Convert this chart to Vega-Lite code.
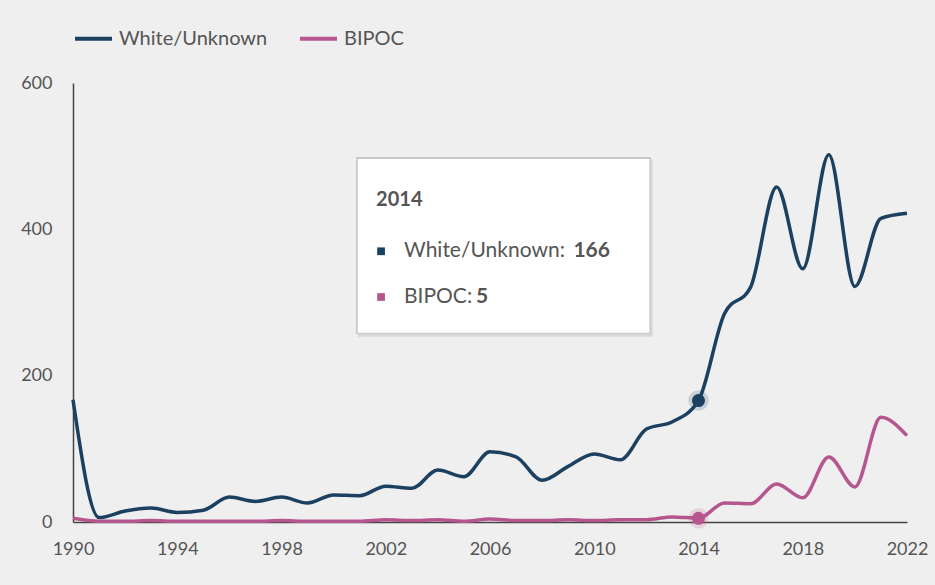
{
  "$schema": "https://vega.github.io/schema/vega-lite/v6.json",
  "autosize": "none",
  "width": 834,
  "height": 439,
  "padding": {"left": 73, "top": 83, "right": 28, "bottom": 63},
  "background": "#efefef",
  "config": {
    "view": {"stroke": null},
    "font": "Lato",
    "axis": {"grid": false, "ticks": false, "domainColor": "#444444", "domainWidth": 1.5, "labelColor": "#555555", "labelFont": "Lato", "labelFontSize": 18, "title": null, "labelFlush": false, "labelOverlap": false, "labelBound": false}
  },
  "data": {"values": [
    {"year": 1990, "series": "White/Unknown", "value": 167},
    {"year": 1991, "series": "White/Unknown", "value": 6},
    {"year": 1992, "series": "White/Unknown", "value": 15},
    {"year": 1993, "series": "White/Unknown", "value": 19},
    {"year": 1994, "series": "White/Unknown", "value": 13},
    {"year": 1995, "series": "White/Unknown", "value": 16},
    {"year": 1996, "series": "White/Unknown", "value": 34},
    {"year": 1997, "series": "White/Unknown", "value": 28},
    {"year": 1998, "series": "White/Unknown", "value": 34},
    {"year": 1999, "series": "White/Unknown", "value": 26},
    {"year": 2000, "series": "White/Unknown", "value": 37},
    {"year": 2001, "series": "White/Unknown", "value": 36},
    {"year": 2002, "series": "White/Unknown", "value": 49},
    {"year": 2003, "series": "White/Unknown", "value": 46},
    {"year": 2004, "series": "White/Unknown", "value": 71},
    {"year": 2005, "series": "White/Unknown", "value": 62},
    {"year": 2006, "series": "White/Unknown", "value": 96},
    {"year": 2007, "series": "White/Unknown", "value": 89},
    {"year": 2008, "series": "White/Unknown", "value": 57},
    {"year": 2009, "series": "White/Unknown", "value": 76},
    {"year": 2010, "series": "White/Unknown", "value": 93},
    {"year": 2011, "series": "White/Unknown", "value": 85},
    {"year": 2012, "series": "White/Unknown", "value": 127},
    {"year": 2013, "series": "White/Unknown", "value": 137},
    {"year": 2014, "series": "White/Unknown", "value": 166},
    {"year": 2015, "series": "White/Unknown", "value": 285},
    {"year": 2016, "series": "White/Unknown", "value": 321},
    {"year": 2017, "series": "White/Unknown", "value": 458},
    {"year": 2018, "series": "White/Unknown", "value": 346},
    {"year": 2019, "series": "White/Unknown", "value": 502},
    {"year": 2020, "series": "White/Unknown", "value": 322},
    {"year": 2021, "series": "White/Unknown", "value": 415},
    {"year": 2022, "series": "White/Unknown", "value": 422},
    {"year": 1990, "series": "BIPOC", "value": 5},
    {"year": 1991, "series": "BIPOC", "value": 1},
    {"year": 1992, "series": "BIPOC", "value": 1},
    {"year": 1993, "series": "BIPOC", "value": 2},
    {"year": 1994, "series": "BIPOC", "value": 1},
    {"year": 1995, "series": "BIPOC", "value": 1},
    {"year": 1996, "series": "BIPOC", "value": 1},
    {"year": 1997, "series": "BIPOC", "value": 1},
    {"year": 1998, "series": "BIPOC", "value": 2},
    {"year": 1999, "series": "BIPOC", "value": 1},
    {"year": 2000, "series": "BIPOC", "value": 1},
    {"year": 2001, "series": "BIPOC", "value": 1},
    {"year": 2002, "series": "BIPOC", "value": 3},
    {"year": 2003, "series": "BIPOC", "value": 2},
    {"year": 2004, "series": "BIPOC", "value": 3},
    {"year": 2005, "series": "BIPOC", "value": 1},
    {"year": 2006, "series": "BIPOC", "value": 4},
    {"year": 2007, "series": "BIPOC", "value": 2},
    {"year": 2008, "series": "BIPOC", "value": 2},
    {"year": 2009, "series": "BIPOC", "value": 3},
    {"year": 2010, "series": "BIPOC", "value": 2},
    {"year": 2011, "series": "BIPOC", "value": 3},
    {"year": 2012, "series": "BIPOC", "value": 3},
    {"year": 2013, "series": "BIPOC", "value": 7},
    {"year": 2014, "series": "BIPOC", "value": 5},
    {"year": 2015, "series": "BIPOC", "value": 26},
    {"year": 2016, "series": "BIPOC", "value": 25},
    {"year": 2017, "series": "BIPOC", "value": 52},
    {"year": 2018, "series": "BIPOC", "value": 33},
    {"year": 2019, "series": "BIPOC", "value": 89},
    {"year": 2020, "series": "BIPOC", "value": 48},
    {"year": 2021, "series": "BIPOC", "value": 143},
    {"year": 2022, "series": "BIPOC", "value": 118}
  ]},
  "layer": [
    {
      "mark": {"type": "line", "interpolate": "monotone", "strokeWidth": 3.5},
      "encoding": {
        "x": {"field": "year", "type": "quantitative", "scale": {"domain": [1990, 2022], "nice": false, "zero": false},
              "axis": {"values": [1990, 1994, 1998, 2002, 2006, 2010, 2014, 2018, 2022], "format": "d", "labelPadding": 18}},
        "y": {"field": "value", "type": "quantitative", "scale": {"domain": [0, 600], "nice": false},
              "axis": {"values": [0, 200, 400, 600], "labelPadding": 21}},
        "color": {"field": "series", "type": "nominal",
                  "scale": {"domain": ["White/Unknown", "BIPOC"], "range": ["#1b4060", "#b5568f"]},
                  "sort": ["White/Unknown", "BIPOC"],
                  "legend": {"title": null, "orient": "top", "direction": "horizontal", "offset": 34, "padding": 0,
                             "symbolType": "stroke", "symbolStrokeWidth": 4, "symbolSize": 1369,
                             "labelFontSize": 20, "labelColor": "#555555", "labelFont": "Lato",
                             "labelOffset": 5, "columnPadding": 24}}
      }
    },
    {
      "transform": [{"filter": "datum.year == 2014"}],
      "mark": {"type": "point", "filled": true, "size": 420, "opacity": 0.18},
      "encoding": {
        "x": {"field": "year", "type": "quantitative"},
        "y": {"field": "value", "type": "quantitative"},
        "color": {"field": "series", "type": "nominal", "legend": null}
      }
    },
    {
      "transform": [{"filter": "datum.year == 2014"}],
      "mark": {"type": "point", "filled": true, "size": 170, "opacity": 1},
      "encoding": {
        "x": {"field": "year", "type": "quantitative"},
        "y": {"field": "value", "type": "quantitative"},
        "color": {"field": "series", "type": "nominal", "legend": null}
      }
    },
    {
      "mark": {"type": "rect", "fill": "#d8d8d8", "opacity": 0.6},
      "encoding": {
        "x": {"datum": 2000.96}, "x2": {"datum": 2012.22},
        "y": {"datum": 495}, "y2": {"datum": 254}
      }
    },
    {
      "mark": {"type": "rect", "fill": "#ffffff", "stroke": "#c8c8c8", "strokeWidth": 1.2},
      "encoding": {
        "x": {"datum": 2000.9}, "x2": {"datum": 2012.14},
        "y": {"datum": 497}, "y2": {"datum": 258}
      }
    },
    {
      "transform": [{"filter": "datum.year == 2014 && datum.series == 'White/Unknown'"}],
      "mark": {"type": "text", "align": "left", "baseline": "middle", "fontSize": 20, "fontWeight": "bold", "color": "#555555"},
      "encoding": {
        "x": {"datum": 2001.63}, "y": {"datum": 440},
        "text": {"field": "year", "type": "quantitative", "format": "d"}
      }
    },
    {
      "transform": [{"filter": "datum.year == 2014 && datum.series == 'White/Unknown'"}],
      "mark": {"type": "point", "shape": "square", "filled": true, "size": 60, "opacity": 1},
      "encoding": {
        "x": {"datum": 2001.82}, "y": {"datum": 370},
        "color": {"field": "series", "type": "nominal", "legend": null}
      }
    },
    {
      "transform": [{"filter": "datum.year == 2014 && datum.series == 'BIPOC'"}],
      "mark": {"type": "point", "shape": "square", "filled": true, "size": 60, "opacity": 1},
      "encoding": {
        "x": {"datum": 2001.82}, "y": {"datum": 307.5},
        "color": {"field": "series", "type": "nominal", "legend": null}
      }
    },
    {
      "transform": [{"filter": "datum.year == 2014 && datum.series == 'White/Unknown'"}, {"calculate": "datum.series + ':'", "as": "lab"}],
      "mark": {"type": "text", "align": "left", "baseline": "middle", "fontSize": 21, "color": "#555555"},
      "encoding": {
        "x": {"datum": 2002.7}, "y": {"datum": 370},
        "text": {"field": "lab"}
      }
    },
    {
      "transform": [{"filter": "datum.year == 2014 && datum.series == 'White/Unknown'"}],
      "mark": {"type": "text", "align": "left", "baseline": "middle", "fontSize": 21, "fontWeight": "bold", "color": "#555555"},
      "encoding": {
        "x": {"datum": 2009.2}, "y": {"datum": 370},
        "text": {"field": "value", "type": "quantitative"}
      }
    },
    {
      "transform": [{"filter": "datum.year == 2014 && datum.series == 'BIPOC'"}, {"calculate": "datum.series + ':'", "as": "lab"}],
      "mark": {"type": "text", "align": "left", "baseline": "middle", "fontSize": 21, "color": "#555555"},
      "encoding": {
        "x": {"datum": 2002.7}, "y": {"datum": 307.5},
        "text": {"field": "lab"}
      }
    },
    {
      "transform": [{"filter": "datum.year == 2014 && datum.series == 'BIPOC'"}],
      "mark": {"type": "text", "align": "left", "baseline": "middle", "fontSize": 21, "fontWeight": "bold", "color": "#555555"},
      "encoding": {
        "x": {"datum": 2005.46}, "y": {"datum": 307.5},
        "text": {"field": "value", "type": "quantitative"}
      }
    }
  ]
}
